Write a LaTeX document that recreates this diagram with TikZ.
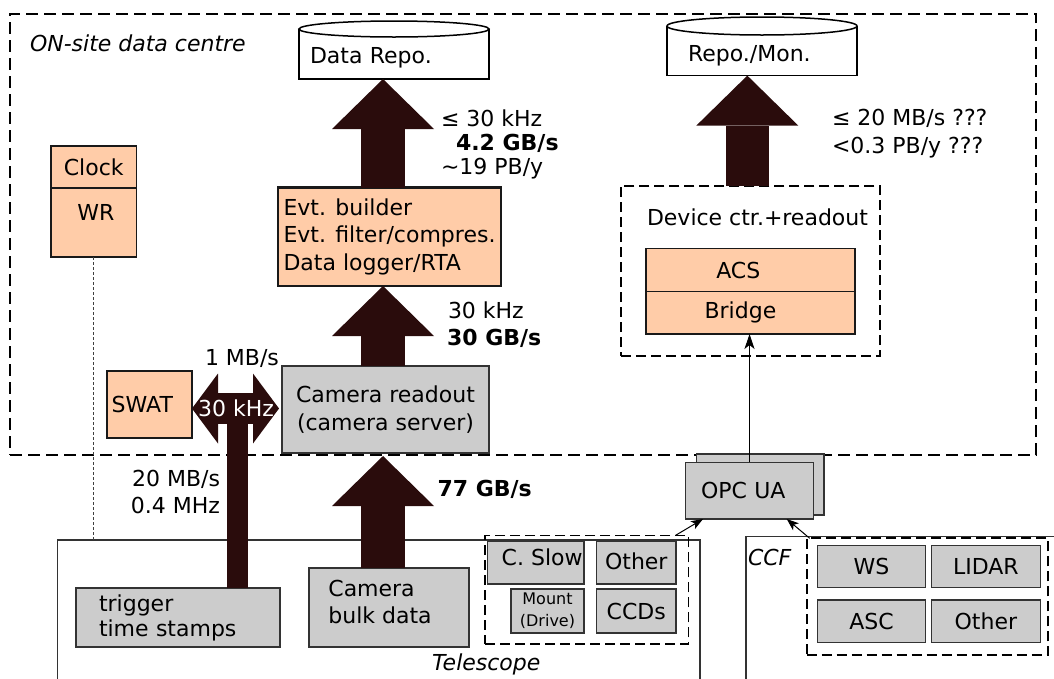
\documentclass[tikz,border=0pt]{standalone}
\usepackage{fontspec}
\setmainfont{DejaVu Sans}[ItalicFont={DejaVu Sans Oblique},BoldFont={DejaVu Sans Bold}]
\usetikzlibrary{arrows.meta}

\definecolor{peach}{RGB}{255,204,168}
\definecolor{boxgray}{RGB}{204,204,204}
\definecolor{flow}{RGB}{42,12,12}
\newcommand{\dgfont}{\fontsize{22}{27.5}\selectfont}
\tikzset{flowtip/.tip={Triangle[width=70pt,length=26pt,line width=0pt]}}

\begin{document}
\begin{tikzpicture}[x=1pt,y=-1pt,
  every node/.style={inner sep=0pt,outer sep=0pt,font=\dgfont},
  lbl/.style={text height=16pt,text depth=0pt},
  boldlbl/.style={lbl,font=\dgfont\bfseries},
  itlbl/.style={lbl,font=\dgfont\itshape},
  peachbox/.style={draw=black!90,line width=1.3pt,fill=peach},
  graybox/.style={draw=black!80,line width=1.3pt,fill=boxgray},
  zone/.style={draw=black,line width=2pt,dash pattern=on 12pt off 6pt},
  subzone/.style={draw=black,line width=1.8pt,dash pattern=on 10pt off 5pt},
  site/.style={draw=black!80,line width=1.2pt},
  flowup/.style={draw=flow,line width=43.5pt,-{Triangle[width=102pt,length=50pt,line width=0pt]}},
  linkarrow/.style={draw=black,line width=1pt,-{Stealth[length=15pt,width=10pt,inset=4pt]}},
  feedarrow/.style={draw=black,line width=1pt,-{Stealth[length=12pt,width=9pt,inset=3pt]}},
  sync/.style={draw=black!75,line width=1pt,dash pattern=on 2.5pt off 2.5pt}
]
\useasboundingbox (0,0) rectangle (1054,678);
\coordinate (floor) at (0,690);

% site outlines (open at the bottom)
\coordinate (telnw) at (57.4,540);
\coordinate (telne) at (700,540);
\draw[site] (telnw |- floor) -- (telnw) -- (telne) -- (telne |- floor);
\coordinate (ccfnw) at (746,536.5);
\coordinate (ccfne) at (1070,536.5);
\draw[site] (ccfnw |- floor) -- (ccfnw) -- (ccfne);

% on-site data centre
\node[zone,minimum width=1026pt,minimum height=441.5pt] (onsite) at (523,234.25) {};
\node[itlbl,anchor=west] (onsitelbl) at (30,43) {ON-site data centre};

% repositories
\node[minimum width=190pt,minimum height=42pt,text width=168pt,inner xsep=11pt,align=left] (repo) at (394,58) {Data Repo.};
\draw[line width=1.5pt] ([yshift=8pt]repo.north west) -- (repo.south west) -- (repo.south east) -- ([yshift=8pt]repo.north east);
\draw[line width=1.5pt,fill=white] ([yshift=8pt]repo.north) ellipse [x radius=95pt,y radius=8pt];

\node[minimum width=190pt,minimum height=40.6pt,text width=148pt,inner xsep=21pt,align=left] (mon) at (762,55.3) {\raisebox{-3pt}{Repo./Mon.}};
\draw[line width=1.5pt] ([yshift=9pt]mon.north west) -- (mon.south west) -- (mon.south east) -- ([yshift=9pt]mon.north east);
\draw[line width=1.5pt,fill=white] ([yshift=9pt]mon.north) ellipse [x radius=95pt,y radius=9pt];

% processing chain
\node[peachbox,line width=2.2pt,minimum width=223pt,minimum height=98.5pt,align=left] (evt) at (389.5,236.75) {Evt. builder\\Evt. filter/compres.\\Data logger/RTA};
\node[graybox,line width=2.2pt,minimum width=207pt,minimum height=87pt,align=center] (cam) at (385.5,409.5) {Camera readout\\(camera server)};
\node[peachbox,line width=1.2pt,minimum width=85pt,minimum height=67pt,text width=75.6pt,inner xsep=4.7pt,align=left] (swat) at (149.5,404.5) {SWAT};

% clock
\node[peachbox,minimum width=85.5pt,minimum height=42pt] (clock) at (93.75,167) {Clock};
\node[peachbox,minimum width=85.5pt,minimum height=69pt] (wr) at (93.75,222.5) {};
\node[lbl] (wrlbl) at (96,212) {WR};

% device control
\node[subzone,minimum width=259pt,minimum height=170.4pt] (dev) at (750.5,270.8) {};
\node[lbl,anchor=west] (devlbl) at (647,217) {Device ctr.+readout};
\node[peachbox,minimum width=209pt,minimum height=43.1pt,text width=68.4pt,inner xsep=70.3pt,align=left] (acs) at (750.5,270.05) {ACS};
\node[peachbox,minimum width=209pt,minimum height=42.4pt,text width=91.8pt,inner xsep=58.6pt,align=left] (bridge) at (750.5,312.8) {Bridge};

% OPC UA servers
\node[graybox,minimum width=127.3pt,minimum height=61pt] (opcb) at (760.35,484.5) {};
\node[graybox,minimum width=127.6pt,minimum height=56.7pt,text width=97pt,inner xsep=15.3pt,align=left] (opcf) at (749.5,490.65) {OPC UA};

% telescope
\node[itlbl,anchor=west] (tellbl) at (432,662) {Telescope};
\node[graybox,line width=2pt,minimum width=204pt,minimum height=59pt,text width=158pt,inner xsep=23pt,align=left,font=\fontsize{22}{25}\selectfont] (trig) at (178,617.5) {trigger\\time stamps};
\node[graybox,line width=2pt,minimum width=159.6pt,minimum height=79pt] (bulk) at (388.8,607.5) {};
\node[anchor=west,align=left,font=\fontsize{22}{27}\selectfont] (bulklbl) at (328.4,601.5) {Camera\\bulk data};

\node[subzone,line width=1.6pt,minimum width=203.3pt,minimum height=108.5pt] (slowgrp) at (586.65,589.75) {};
\node[graybox,line width=1.2pt,minimum width=96.5pt,minimum height=43pt] (cslow) at (535.75,562.5) {};
\node[lbl,anchor=west] (cslowlbl) at (501.7,557) {C. Slow};
\node[graybox,line width=1.2pt,minimum width=79.4pt,minimum height=43pt] (tother) at (636.3,562.5) {\raisebox{3.5pt}{Other}};
\node[graybox,line width=1.2pt,minimum width=73pt,minimum height=44pt,align=center,font=\fontsize{16}{22}\selectfont] (mount) at (547.5,611) {Mount\\(Drive)};
\node[graybox,line width=1.2pt,minimum width=79.4pt,minimum height=44pt] (ccds) at (636.3,611) {CCDs};

% CCF
\node[itlbl,anchor=west] (ccflbl) at (748,557) {CCF};
\node[subzone,minimum width=241.3pt,minimum height=116.7pt] (ccfgrp) at (927.35,596.65) {};
\node[graybox,line width=1.2pt,minimum width=108.4pt,minimum height=42pt] (ws) at (871.5,566.7) {WS};
\node[graybox,line width=1.2pt,minimum width=108.4pt,minimum height=42pt] (lidar) at (985.9,566.7) {LIDAR};
\node[graybox,line width=1.2pt,minimum width=108.4pt,minimum height=42.7pt] (asc) at (871.5,621.35) {ASC};
\node[graybox,line width=1.2pt,minimum width=108.4pt,minimum height=42.7pt] (cother) at (985.9,621.35) {Other};

% data flow
\coordinate (ax) at (383,0);
\draw[flowup] (ax |- evt.north) -- (ax |- repo.south);
\draw[flowup] (ax |- cam.north) -- (ax |- evt.south);
\draw[flowup] (ax |- bulk.north) -- ([yshift=-3pt]ax |- cam.south);
\coordinate (bx) at (747.3,0);
\draw[flowup] (bx |- dev.north) -- (bx |- mon.south);

\coordinate (dbl) at (0,408.5);
\coordinate (bar) at (237.5,408.5);
\draw[draw=flow,line width=21.6pt] (bar |- trig.north) -- (bar);
\draw[draw=flow,line width=31pt,{flowtip}-{flowtip}] (swat.east |- dbl) -- ([xshift=-3pt]cam.west |- dbl);
\node[lbl,text=white] (trigrate) at (236,408) {30 kHz};

% rates
\node[lbl] (swatrate) at (242,357) {1 MB/s};
\node[anchor=east,align=right,font=\fontsize{22}{27}\selectfont] (trigflow) at (220,492) {20 MB/s\\0.4 MHz};
\node[lbl,anchor=west] (outrate) at (441,118) {≤ 30 kHz};
\node[boldlbl,anchor=west] (outbw) at (456,142) {4.2 GB/s};
\node[lbl,anchor=west] (outvol) at (441,166) {\textasciitilde19 PB/y};
\node[lbl,anchor=west] (evtrate) at (448,310) {30 kHz};
\node[boldlbl,anchor=west] (evtbw) at (447,337) {30 GB/s};
\node[boldlbl,anchor=west] (bulkbw) at (437.5,488.6) {77 GB/s};
\node[lbl,anchor=west] (monbw) at (832,117) {≤ 20 MB/s ???};
\node[lbl,anchor=west] (monvol) at (832,145.5) {<0.3 PB/y ???};

% control links
\draw[linkarrow] (opcf.north) -- (opcf.north |- bridge.south);
\draw[feedarrow] ([xshift=-13pt]slowgrp.north east) -- ([xshift=17.3pt]opcf.south west);
\draw[feedarrow] ([xshift=3pt]ccfgrp.north west) -- ([xshift=-26.6pt]opcf.south east);
\draw[sync] (wr.south) -- (wr.south |- telnw);
\end{tikzpicture}
\end{document}
